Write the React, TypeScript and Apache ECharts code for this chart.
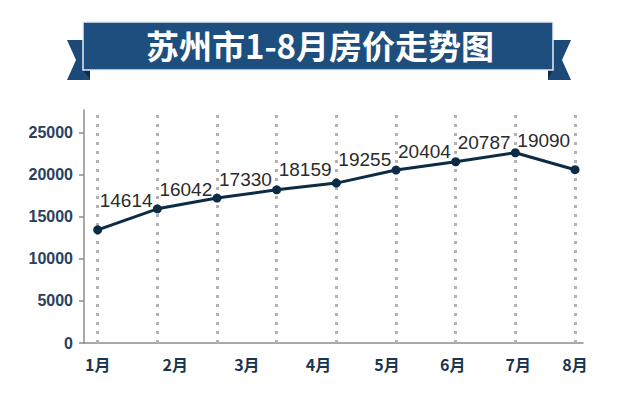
import React, { useEffect, useRef } from "react";
import * as echarts from "echarts";

const titleText = "苏州市1-8月房价走势图";
const months = ["1月", "2月", "3月", "4月", "5月", "6月", "7月", "8月"];
const monthLabelPos = [0, 1.3, 2.5, 3.7, 4.85, 5.95, 7.05, 8];
const priceLabels = ["14614", "16042", "17330", "18159", "19255", "20404", "20787", "19090"];
const pointValues = [13450, 15950, 17230, 18210, 19010, 20560, 21550, 22620, 20600];
const yTicks = [0, 5000, 10000, 15000, 20000, 25000];
const labelLift = [10, 0, 0, 1, 5, 0, 0, -7, 0];

export default function App() {
  const ref = useRef<HTMLDivElement>(null);
  useEffect(() => {
    document.body.style.margin = "0";
    const chart = echarts.init(ref.current!, null, { renderer: "svg" });
    const navy = "#0c2b45";
    const points = pointValues.map((v, i) => [i, v]);
    chart.setOption({
      animation: false,
      backgroundColor: "#ffffff",
      grid: { left: 84, right: 57, top: 110, bottom: 64, containLabel: false },
      xAxis: {
        type: "value",
        min: -0.23,
        max: 8.134,
        axisLine: { show: true, onZero: false, lineStyle: { color: "#8c8c8c", width: 1.5 } },
        axisTick: { show: false },
        splitLine: { show: false },
        axisLabel: {
          customValues: monthLabelPos,
          formatter: (v: number) => {
            const i = monthLabelPos.findIndex((p) => Math.abs(p - v) < 1e-6);
            return i >= 0 ? months[i] : "";
          },
          margin: 13,
          color: "#1a3550",
          fontSize: 16,
          fontWeight: "bold",
          fontFamily: "Noto Sans CJK SC",
        },
      },
      yAxis: {
        type: "value",
        min: 0,
        max: 27700,
        axisLine: { show: true, onZero: false, lineStyle: { color: "#8c8c8c", width: 1.5 } },
        axisTick: { show: true, customValues: yTicks, length: 5, lineStyle: { color: "#8c8c8c", width: 1.5 } },
        splitLine: { show: false },
        axisLabel: {
          customValues: yTicks,
          formatter: (v: number) => String(Math.round(v)),
          margin: 11,
          color: "#28415e",
          fontSize: 16,
          fontWeight: "bold",
          fontFamily: "Liberation Sans",
        },
      },
      series: [
        {
          type: "line",
          z: 1,
          data: points,
          symbol: "none",
          lineStyle: { opacity: 0 },
          silent: true,
          markLine: {
            silent: true,
            z: 1,
            symbol: ["none", "none"],
            label: { show: false },
            lineStyle: { type: [3, 6], color: "#b3b3b3", width: 3 },
            data: points.map((p) => ({ xAxis: p[0] })),
          },
        },
        {
          type: "line",
          z: 10,
          data: points.map((p, i) => ({
            value: p,
            label: { offset: [2, -labelLift[i]] },
          })),
          symbol: "circle",
          symbolSize: 9,
          itemStyle: { color: navy, borderColor: navy, borderWidth: 0 },
          lineStyle: { color: navy, width: 3 },
          label: {
            show: true,
            position: "top",
            align: "left",
            distance: 5,
            formatter: (p: any) => priceLabels[p.dataIndex] ?? "",
            fontSize: 19,
            color: "#2b2b2b",
            fontFamily: "Liberation Sans",
          },
        },
      ],
      graphic: [
        {
          type: "polygon",
          shape: { points: [[67, 40], [90, 40], [90, 80], [67, 80], [76, 60]] },
          style: { fill: "#1c4a78" },
        },
        {
          type: "polygon",
          shape: { points: [[548, 40], [571, 40], [562, 60], [571, 80], [548, 80]] },
          style: { fill: "#1c4a78" },
        },
        {
          type: "polygon",
          shape: { points: [[83, 70], [90, 70], [90, 79]] },
          style: { fill: "#0e2b4a" },
        },
        {
          type: "polygon",
          shape: { points: [[553, 70], [548, 70], [548, 79]] },
          style: { fill: "#0e2b4a" },
        },
        {
          type: "rect",
          shape: { x: 83, y: 22, width: 470, height: 48 },
          style: { fill: "#1e4e7e", stroke: "#e6edf5", lineWidth: 1.5 },
        },
        {
          type: "text",
          x: 320,
          y: 45,
          style: {
            text: titleText,
            fill: "#ffffff",
            fontSize: 33,
            fontWeight: "bold",
            fontFamily: "Noto Sans CJK SC",
            align: "center",
            verticalAlign: "middle",
          },
        },
      ],
    });
    return () => chart.dispose();
  }, []);
  return <div ref={ref} style={{ width: 640, height: 407 }} />;
}
